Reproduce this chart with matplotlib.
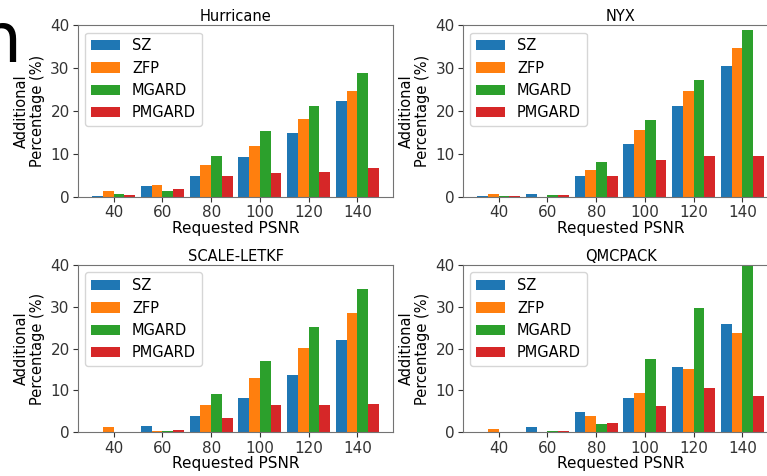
import numpy as np
import matplotlib
matplotlib.use("Agg")
import matplotlib.pyplot as plt

# Requested PSNR levels and compressor names
psnr = ["40", "60", "80", "100", "120", "140"]
methods = ["SZ", "ZFP", "MGARD", "PMGARD"]
colors = ["#1f77b4", "#ff7f0e", "#2ca02c", "#d62728"]

# Additional percentage (%) per dataset, one list per method
hurricane_sz = [0.3, 2.6, 5.0, 9.3, 15.0, 22.3]
hurricane_zfp = [1.4, 2.7, 7.5, 11.9, 18.1, 24.8]
hurricane_mgard = [0.6, 1.4, 9.5, 15.3, 21.2, 28.9]
hurricane_pmgard = [0.4, 1.9, 5.0, 5.7, 5.8, 6.8]

nyx_sz = [0.2, 0.7, 5.0, 12.4, 21.1, 30.4]
nyx_zfp = [0.6, 0.1, 6.4, 15.7, 24.8, 34.7]
nyx_mgard = [0.2, 0.5, 8.1, 18.0, 27.3, 38.8]
nyx_pmgard = [0.2, 0.4, 5.0, 8.7, 9.5, 9.5]

scale_sz = [0.0, 1.4, 3.9, 8.1, 13.8, 22.0]
scale_zfp = [1.3, 0.2, 6.4, 13.0, 20.2, 28.5]
scale_mgard = [0.0, 0.3, 9.2, 17.1, 25.2, 34.3]
scale_pmgard = [0.0, 0.6, 3.5, 6.4, 6.4, 6.7]

qmc_sz = [0.0, 1.2, 4.8, 8.3, 15.6, 25.8]
qmc_zfp = [0.8, 0.0, 3.9, 9.4, 15.1, 23.8]
qmc_mgard = [0.0, 0.2, 1.9, 17.6, 29.8, 39.8]
qmc_pmgard = [0.0, 0.2, 2.2, 6.3, 10.7, 8.7]

datasets = [
    ("Hurricane", [hurricane_sz, hurricane_zfp, hurricane_mgard, hurricane_pmgard]),
    ("NYX", [nyx_sz, nyx_zfp, nyx_mgard, nyx_pmgard]),
    ("SCALE-LETKF", [scale_sz, scale_zfp, scale_mgard, scale_pmgard]),
    ("QMCPACK", [qmc_sz, qmc_zfp, qmc_mgard, qmc_pmgard]),
]

plt.rcParams["font.size"] = 11

fig = plt.figure(figsize=(7.67, 4.76), dpi=100)

# axes boxes (left, bottom, width, height); right column runs past the edge like the cropped original
boxes = [
    [0.1017, 0.586, 0.4107, 0.361],
    [0.6037, 0.586, 0.4107, 0.361],
    [0.1017, 0.092, 0.4107, 0.351],
    [0.6037, 0.092, 0.4107, 0.351],
]

x = np.arange(len(psnr))
width = 0.22

for box, (name, series) in zip(boxes, datasets):
    ax = fig.add_axes(box)
    for i, (vals, c, m) in enumerate(zip(series, colors, methods)):
        ax.bar(x + (i - 1.5) * width, vals, width, color=c, label=m)
    ax.set_ylim(0, 40)
    ax.set_yticks([0, 10, 20, 30, 40])
    ax.set_xticks(x)
    ax.set_xticklabels(psnr)
    ax.set_title(name, fontsize=10.5, pad=3)
    ax.set_xlabel("Requested PSNR", labelpad=0.5)
    ax.set_ylabel("Additional\nPercentage (%)", fontsize=10.5, linespacing=1.1)
    for s in ax.spines.values():
        s.set_color("0.45")
    ax.tick_params(colors="0.2", direction="out", pad=2.5)
    ax.legend(loc="upper left", fontsize=10.5)

# cropped letter from the surrounding page
fig.text(-0.029, 0.87, "n", fontsize=50, ha="left", va="baseline")

fig.savefig("out.png", dpi=100)
